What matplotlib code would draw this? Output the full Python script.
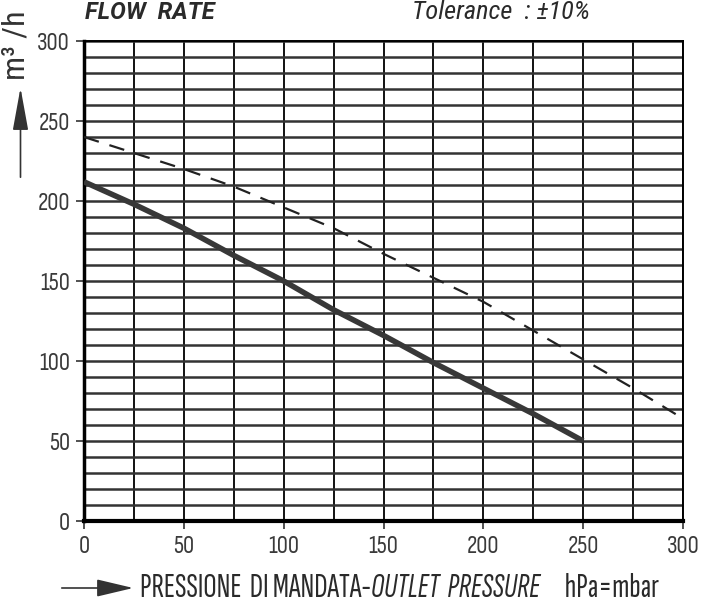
import matplotlib
matplotlib.use("Agg")
import matplotlib.pyplot as plt
from matplotlib.patches import FancyArrowPatch
from matplotlib.ticker import MultipleLocator

# outlet pressure (hPa = mbar) vs flow rate (m3/h)
pressure = [0, 25, 50, 75, 100, 125, 150, 175, 200, 225, 250]
flow_solid = [212, 198, 183, 166, 150, 132, 116, 99, 83, 67, 50]

pressure_dash = [0, 25, 50, 75, 100, 125, 150, 175, 200, 225, 250, 275, 300]
flow_dash = [240, 230, 220, 209, 196, 183, 167, 152, 137, 119, 101, 83, 64]

x_ticks = [0, 50, 100, 150, 200, 250, 300]
y_ticks = [0, 50, 100, 150, 200, 250, 300]

plt.rcParams['font.family'] = ['Sofia Sans Condensed', 'Roboto Condensed', 'DejaVu Sans']
label_font = ['Sofia Sans Extra Condensed', 'Roboto Condensed', 'DejaVu Sans']
ink = '#2a2a2a'

fig = plt.figure(figsize=(7.02, 6.02), dpi=100)
ax = fig.add_axes([84 / 702, 1 - 521 / 602, 599 / 702, 480 / 602])

ax.set_xlim(0, 300)
ax.set_ylim(0, 300)
ax.xaxis.set_minor_locator(MultipleLocator(25))
ax.yaxis.set_minor_locator(MultipleLocator(10))
ax.set_xticks(x_ticks)
ax.set_yticks(y_ticks)
ax.grid(which='both', axis='x', color='#111111', lw=1.4)
ax.grid(which='both', axis='y', color='#333333', lw=1.8)
ax.tick_params(which='minor', length=0)
ax.tick_params(which='major', length=6, width=1.2, labelsize=18, pad=4,
               color='#333333', labelcolor='#3a3a3a')
for lbl in ax.get_xticklabels() + ax.get_yticklabels():
    lbl.set_fontweight('light')
for side in ['top', 'right']:
    ax.spines[side].set_linewidth(1.4)
ax.spines['left'].set_linewidth(2.5)
ax.spines['bottom'].set_linewidth(3)
ax.set_axisbelow(True)

ax.plot(pressure, flow_solid, color='#383838', lw=4, solid_capstyle='butt', zorder=5)
ax.plot(pressure_dash, flow_dash, color='#222222', lw=1.6, dashes=(7, 5), zorder=5)

# header texts
fig.text(85 / 702, 1 - 19 / 602, 'FLOW  RATE', fontsize=17, fontweight='bold', style='italic',
         color=ink, va='baseline', ha='left', family=['Roboto', 'DejaVu Sans'])
fig.text(412 / 702, 1 - 19 / 602, 'Tolerance  : \u00b110%', fontsize=19, style='italic',
         color=ink, va='baseline', ha='left', family=['Roboto Condensed', 'DejaVu Sans'])

# y axis label with arrow
fig.text(16 / 702, 1 - 45 / 602, 'm\u00b3 /h', rotation=90, fontsize=23, color='#333333',
         ha='center', va='center', family=['Roboto Condensed', 'DejaVu Sans'])
fig.add_artist(FancyArrowPatch((20.5 / 702, 1 - 180 / 602), (20.5 / 702, 1 - 85 / 602),
               transform=fig.transFigure, arrowstyle='-|>,head_length=2.2,head_width=0.4',
               mutation_scale=12, lw=1.2, color='#333333'))

# x axis label with arrow, upright and italic parts
fig.add_artist(FancyArrowPatch((59 / 702, 1 - 588 / 602), (136 / 702, 1 - 588 / 602),
               transform=fig.transFigure, arrowstyle='-|>,head_length=1.9,head_width=0.45',
               mutation_scale=12, lw=1.2, color='#333333'))
parts = [('PRESSIONE  DI MANDATA-', 'normal'), ('OUTLET  PRESSURE', 'italic'), ('      hPa=mbar', 'normal')]
fig.canvas.draw()
renderer = fig.canvas.get_renderer()
x0 = 140
for txt, st in parts:
    t = fig.text(x0 / 702, 1 - 588 / 602, txt, fontsize=24, style=st, color=ink,
                 ha='left', va='center', family=label_font)
    x0 += t.get_window_extent(renderer).width

fig.savefig('out.png', dpi=100)
